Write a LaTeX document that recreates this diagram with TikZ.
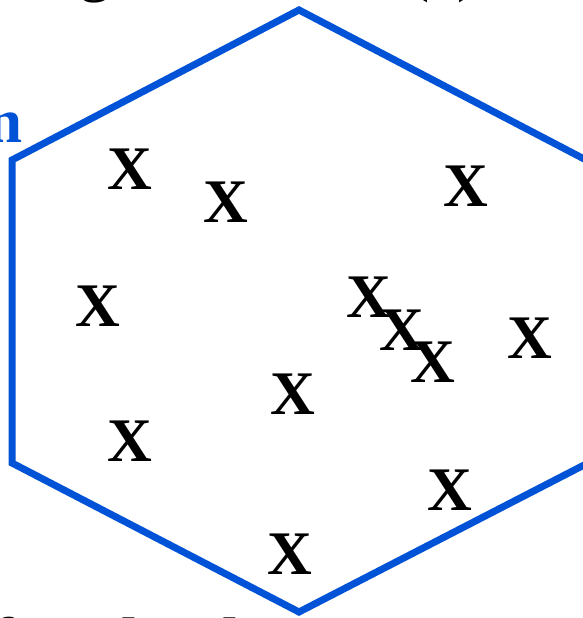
\documentclass[tikz,border=0pt]{standalone}
\usepackage{fontspec}
\setmainfont{Liberation Serif}
\definecolor{hexblue}{RGB}{0,82,214}
\begin{document}
\begin{tikzpicture}[x=1pt,y=-1pt,
  crossmark/.style={font=\fontsize{62}{62}\bfseries\selectfont, inner sep=0pt, text=black},
  lbl/.style={font=\fontsize{63}{63}\bfseries\selectfont, inner sep=0pt},
  title/.style={font=\fontsize{63}{63}\selectfont, inner sep=0pt}]
\useasboundingbox (0,0) rectangle (582,618);
% hexagon
\coordinate (t) at (299,10);
\coordinate (ur) at (588,161);
\coordinate (lr) at (588,463);
\coordinate (b) at (299,612);
\coordinate (ll) at (12,463);
\coordinate (ul) at (12,160);
\draw[hexblue, line width=7pt, line join=miter] (t) -- (ur) -- (lr) -- (b) -- (ll) -- (ul) -- cycle;
% cropped labels
\node[title, anchor=base] (tg) at (95,-10) {g};
\node[title, anchor=base west] (ta) at (408,-10) {(a)};
\node[lbl, anchor=base east, text=hexblue] (ln) at (23,142) {n};
\node[lbl, anchor=base west] (bf) at (-8,661) {f};
\node[lbl, anchor=base] (bh) at (130,661) {l};
\node[lbl, anchor=base] (bl) at (231,661) {l};
% crosses
\node[crossmark] (x1) at (130,169) {X};
\node[crossmark] (x2) at (226,202) {X};
\node[crossmark] (x3) at (466,186) {X};
\node[crossmark] (x4) at (98,306) {X};
\node[crossmark] (x5) at (369,297) {X};
\node[crossmark] (x6) at (402,330) {X};
\node[crossmark] (x7) at (433,362) {X};
\node[crossmark] (x8) at (530,338) {X};
\node[crossmark] (x9) at (293,394) {X};
\node[crossmark] (x10) at (130,441) {X};
\node[crossmark] (x11) at (450,490) {X};
\node[crossmark] (x12) at (290,554) {X};
\end{tikzpicture}
\end{document}
